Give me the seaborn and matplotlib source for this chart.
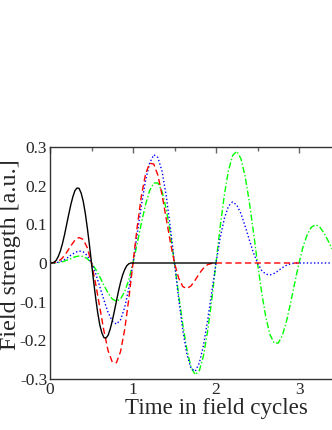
import numpy as np
import pandas as pd
import matplotlib
matplotlib.use("Agg")
import matplotlib.pyplot as plt
import seaborn as sns
from matplotlib.ticker import MultipleLocator

# time grid (field cycles)
time = [0.00, 0.05, 0.10, 0.15, 0.20, 0.25, 0.30, 0.35, 0.40, 0.45,
        0.50, 0.55, 0.60, 0.65, 0.70, 0.75, 0.80, 0.85, 0.90, 0.95,
        1.00, 1.05, 1.10, 1.15, 1.20, 1.25, 1.30, 1.35, 1.40, 1.45,
        1.50, 1.55, 1.60, 1.65, 1.70, 1.75, 1.80, 1.85, 1.90, 1.95,
        2.00, 2.05, 2.10, 2.15, 2.20, 2.25, 2.30, 2.35, 2.40, 2.45,
        2.50, 2.55, 2.60, 2.65, 2.70, 2.75, 2.80, 2.85, 2.90, 2.95,
        3.00, 3.05, 3.10, 3.15, 3.20, 3.25, 3.30, 3.35, 3.40]

# black solid (1-cycle pulse), finer time grid, flat until t = 2
black_time = [0.000, 0.025, 0.050, 0.075, 0.100, 0.125, 0.150, 0.175, 0.200, 0.225,
              0.250, 0.275, 0.300, 0.325, 0.350, 0.375, 0.400, 0.425, 0.450, 0.475,
              0.500, 0.525, 0.550, 0.575, 0.600, 0.625, 0.650, 0.675, 0.700, 0.725,
              0.750, 0.775, 0.800, 0.825, 0.850, 0.875, 0.900, 0.925, 0.950, 0.975,
              1.000, 2.000]
black_vals = [0.000, 0.000, 0.002, 0.007, 0.017, 0.031, 0.050, 0.073, 0.099, 0.125,
              0.150, 0.171, 0.187, 0.194, 0.193, 0.181, 0.160, 0.129, 0.090, 0.047,
              0.000, -0.047, -0.090, -0.129, -0.160, -0.181, -0.193, -0.194, -0.187, -0.171,
              -0.150, -0.125, -0.099, -0.073, -0.050, -0.031, -0.017, -0.007, -0.002, 0.000,
              0.000, 0.000]

# red dashed (2-cycle pulse), defined up to t = 3
red_vals = [0.000, 0.001, 0.004, 0.013, 0.027, 0.044, 0.059, 0.066, 0.061, 0.039,
            0.000, -0.054, -0.115, -0.176, -0.227, -0.256, -0.258, -0.229, -0.172, -0.092,
            0.000, 0.092, 0.172, 0.229, 0.258, 0.256, 0.227, 0.176, 0.115, 0.054,
            0.000, -0.039, -0.061, -0.066, -0.059, -0.044, -0.027, -0.013, -0.004, -0.001,
            0.000, 0.000, 0.000, 0.000, 0.000, 0.000, 0.000, 0.000, 0.000, 0.000,
            0.000, 0.000, 0.000, 0.000, 0.000, 0.000, 0.000, 0.000, 0.000, 0.000,
            0.000]

# blue dotted (3-cycle pulse)
blue_vals = [0.000, 0.000, 0.002, 0.006, 0.012, 0.020, 0.027, 0.031, 0.029, 0.019,
             0.000, -0.027, -0.061, -0.096, -0.128, -0.150, -0.158, -0.147, -0.115, -0.065,
             0.000, 0.074, 0.147, 0.212, 0.258, 0.280, 0.273, 0.237, 0.174, 0.092,
             0.000, -0.092, -0.174, -0.237, -0.273, -0.280, -0.258, -0.212, -0.147, -0.074,
             0.000, 0.065, 0.115, 0.147, 0.158, 0.150, 0.128, 0.096, 0.061, 0.027,
             0.000, -0.019, -0.029, -0.031, -0.027, -0.020, -0.012, -0.006, -0.002, 0.000,
             0.000, 0.000, 0.000, 0.000, 0.000, 0.000, 0.000, 0.000, 0.000]

# green dash-dot (4-cycle pulse)
green_vals = [0.000, 0.000, 0.001, 0.003, 0.007, 0.011, 0.016, 0.018, 0.017, 0.011,
              0.000, -0.016, -0.036, -0.058, -0.078, -0.093, -0.099, -0.093, -0.074, -0.043,
              0.000, 0.050, 0.102, 0.150, 0.187, 0.207, 0.207, 0.185, 0.140, 0.076,
              0.000, -0.082, -0.160, -0.225, -0.270, -0.289, -0.278, -0.239, -0.175, -0.093,
              0.000, 0.093, 0.175, 0.239, 0.278, 0.289, 0.270, 0.225, 0.160, 0.082,
              0.000, -0.076, -0.140, -0.185, -0.207, -0.207, -0.187, -0.150, -0.102, -0.050,
              0.000, 0.043, 0.074, 0.093, 0.099, 0.093, 0.078, 0.058, 0.036]

x_ticks = [0, 1, 2, 3]
x_tick_labels = ["0", "1", "2", "3"]
y_ticks = [-0.3, -0.2, -0.1, 0.0, 0.1, 0.2, 0.3]
y_tick_labels = ["-0.3", "-0.2", "-0.1", "0", "0.1", "0.2", "0.3"]

sns.set_style("white")
plt.rcParams["font.family"] = ["Liberation Serif", "DejaVu Serif"]
plt.rcParams["axes.unicode_minus"] = False

W, H = 332, 430
fig = plt.figure(figsize=(W / 100, H / 100), dpi=100)
# axes extends beyond the right edge of the figure (cropped look)
ax = fig.add_axes([50 / W, (H - 379) / H, 332 / W, 232 / H])

series = [
    (time, green_vals, "#00ff00", (0, (4.5, 1.6, 1.0, 1.6))),
    (time, blue_vals, "#0000ff", (0, (1.0, 1.6))),
    (time, red_vals, "#ff0000", (0, (4.5, 2.5))),
    (black_time, black_vals, "#000000", "-"),
]
for tt, vals, col, ls in series:
    df = pd.DataFrame({"t": tt[:len(vals)], "v": vals})
    sns.lineplot(data=df, x="t", y="v", ax=ax, color=col, linestyle=ls,
                 linewidth=1.0, estimator=None, sort=False)

ax.set_xlim(0, 4.0)
ax.set_ylim(-0.3, 0.3)
ax.set_xticks(x_ticks)
ax.set_xticklabels(x_tick_labels)
ax.set_yticks(y_ticks)
ax.set_yticklabels(y_tick_labels)
ax.xaxis.set_minor_locator(MultipleLocator(0.5))
ax.yaxis.set_minor_locator(MultipleLocator(0.05))
ax.tick_params(which="both", direction="in", top=True, right=True,
               color="#666666", width=1.0, labelsize=12.5, pad=2)
ax.tick_params(which="major", length=4.5)
ax.tick_params(which="minor", length=3)

for sp in ax.spines.values():
    sp.set_color("#333333")
    sp.set_linewidth(1.0)

ax.set_xlabel("Time in field cycles", fontsize=16.6, labelpad=0)
ax.set_ylabel("Field strength [a.u.]", fontsize=17.4)
ax.yaxis.set_label_coords(-0.088, 0.534)

fig.savefig("out.png", dpi=100)
